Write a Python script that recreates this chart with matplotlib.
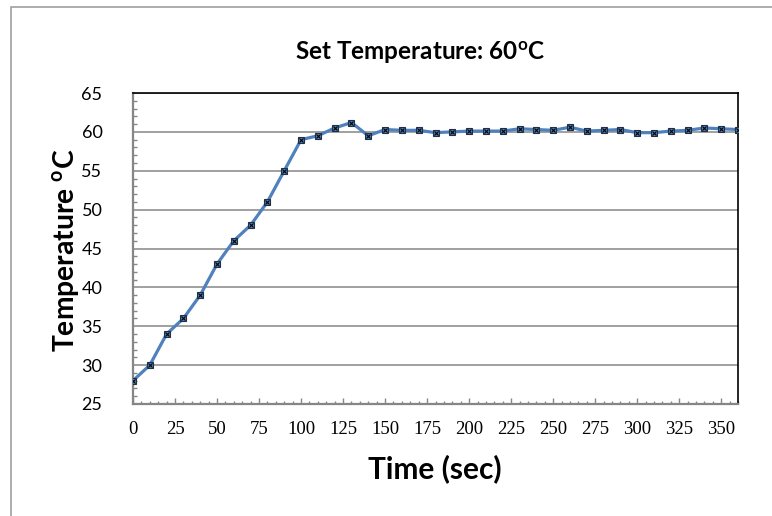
import matplotlib.pyplot as plt
from matplotlib.patches import Rectangle
from matplotlib.ticker import MultipleLocator

plt.rcParams["mathtext.fontset"] = "custom"
plt.rcParams["mathtext.rm"] = "Lato"
plt.rcParams["mathtext.bf"] = "Lato:bold"

# time (sec) and measured temperature (degC), one reading every 10 s
time_s = [0, 10, 20, 30, 40, 50, 60, 70, 80, 90, 100, 110, 120, 130, 140, 150,
          160, 170, 180, 190, 200, 210, 220, 230, 240, 250, 260, 270, 280, 290,
          300, 310, 320, 330, 340, 350, 360]
temp_c = [28.0, 30.0, 34.0, 36.0, 39.0, 43.0, 46.0, 48.0, 51.0, 55.0, 59.0,
          59.5, 60.5, 61.2, 59.5, 60.3, 60.2, 60.2, 59.9, 60.0, 60.1, 60.1,
          60.1, 60.4, 60.3, 60.2, 60.6, 60.1, 60.2, 60.3, 59.9, 59.9, 60.1,
          60.2, 60.5, 60.4, 60.3]
x_ticks = [0, 25, 50, 75, 100, 125, 150, 175, 200, 225, 250, 275, 300, 325, 350]
y_ticks = [25, 30, 35, 40, 45, 50, 55, 60, 65]

GRID = "#868686"
BLUE = "#4F81BD"

fig = plt.figure(figsize=(7.72, 5.16), dpi=100)
ax = fig.add_axes([133 / 772, 1 - 404 / 516, 605 / 772, 311 / 516])

# chart-area frame (runs off the right/bottom edge like the source)
fig.patches.append(Rectangle((11 / 772, -0.1), 2.0, 1 - 7 / 516 + 0.1,
                             transform=fig.transFigure, fill=False,
                             edgecolor="#A0A0A0", linewidth=1.2))

ax.plot(time_s, temp_c, color=BLUE, linewidth=2.3, zorder=3)
ax.plot(time_s, temp_c, linestyle="none", marker="s", markersize=4.5,
        markerfacecolor=BLUE, markeredgecolor="#1F2F45", markeredgewidth=0.8,
        zorder=4)
ax.plot(time_s, temp_c, linestyle="none", marker="x", markersize=2.8,
        markeredgecolor="black", markeredgewidth=0.8, zorder=5)

ax.set_xlim(0, 360)
ax.set_ylim(25, 65)
ax.set_xticks(x_ticks)
ax.set_yticks(y_ticks)
ax.xaxis.set_minor_locator(MultipleLocator(5))
ax.yaxis.set_minor_locator(MultipleLocator(1))
ax.grid(axis="y", which="major", color=GRID, linewidth=1.1, zorder=1)
ax.set_axisbelow(True)

ax.tick_params(axis="both", which="both", direction="in", color=GRID, width=1.0)
ax.tick_params(axis="x", which="major", length=4.5, pad=12)
ax.tick_params(axis="x", which="minor", length=2.5)
ax.tick_params(axis="y", which="major", length=0, pad=22)
ax.tick_params(axis="y", which="minor", length=3)
ax.tick_params(top=False, right=False, which="both")

for lab in ax.get_xticklabels():
    lab.set_fontfamily("Liberation Serif")
    lab.set_fontsize(13.5)
for lab in ax.get_yticklabels():
    lab.set_fontfamily("Lato")
    lab.set_fontsize(13)

for side in ("left", "bottom"):
    ax.spines[side].set_color(GRID)
    ax.spines[side].set_linewidth(1.6)
for side in ("top", "right"):
    ax.spines[side].set_color("black")
    ax.spines[side].set_linewidth(1.2)

fig.text(420 / 772, 1 - 53 / 516, r"Set Temperature: 60$^{\mathbf{o}}$C",
         ha="center", va="center", fontfamily="Lato", fontweight="bold",
         fontsize=17.5)
fig.text(66 / 772, 1 - 250 / 516, r"Temperature $^{\mathbf{o}}$C",
         rotation=90, ha="center", va="center", fontfamily="Lato",
         fontweight="bold", fontsize=20.3)
fig.text(435 / 772, 1 - 469 / 516, "Time (sec)", ha="center", va="center",
         fontfamily="Lato", fontweight="bold", fontsize=21.5)

fig.savefig("out.png", dpi=100)
